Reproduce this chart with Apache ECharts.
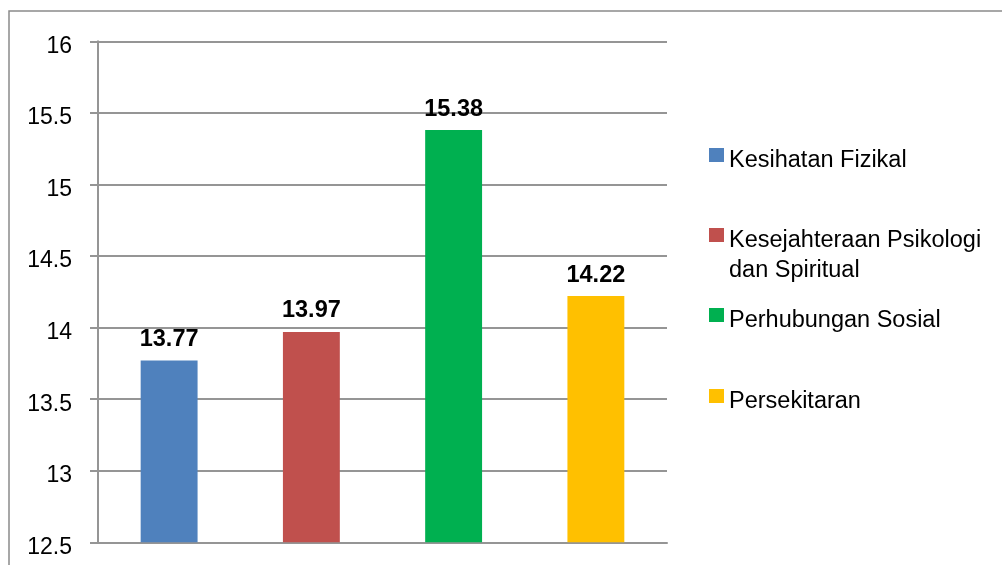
<!DOCTYPE html>
<html>
<head>
<meta charset="utf-8">
<script src="https://cdn.jsdelivr.net/npm/echarts@6/dist/echarts.min.js"></script>
<style>
html,body{margin:0;padding:0;background:#fff;}
#chart{width:1002px;height:565px;}
</style>
</head>
<body>
<div id="chart"></div>
<script>
const categories = ['Kesihatan Fizikal', 'Kesejahteraan Psikologi dan Spiritual', 'Perhubungan Sosial', 'Persekitaran'];
const values = [13.77, 13.97, 15.38, 14.22];
const colors = ['#4F81BD', '#C0504D', '#00B050', '#FFC000'];
const legendLabels = ['Kesihatan Fizikal', 'Kesejahteraan Psikologi\ndan Spiritual', 'Perhubungan Sosial', 'Persekitaran'];
const yMin = 12.5, yMax = 16, yStep = 0.5;

const FONT = "'Liberation Sans', Arial, sans-serif";
const GRID_COLOR = '#959595';

const chart = echarts.init(document.getElementById('chart'), null, {renderer: 'canvas'});

const series = categories.map((name, i) => ({
  name: name,
  type: 'bar',
  barWidth: '40%',
  barGap: '-100%',
  itemStyle: {color: colors[i]},
  label: {
    show: true,
    position: 'top',
    distance: 9,
    color: '#000',
    fontFamily: FONT,
    fontWeight: 'bold',
    fontSize: 23.5,
    lineHeight: 24
  },
  data: values.map((v, j) => (j === i ? v : null))
}));

// legend icons: square at the top of a taller invisible box to align with the first text line
const iconSingle = 'path://M0,0L15,0L15,14L0,14Z M0,26L0.001,26Z';
const iconDouble = 'path://M0,0L15,0L15,14L0,14Z M0,56L0.001,56Z';
const legendTops = [146, 226, 306, 387];

const legends = categories.map((name, i) => ({
  show: true,
  orient: 'vertical',
  left: 709,
  top: legendTops[i],
  padding: 0,
  itemGap: 0,
  itemWidth: 15,
  itemHeight: i === 1 ? 56 : 26,
  itemTextGap: 8,
  icon: i === 1 ? iconDouble : iconSingle,
  selectedMode: false,
  data: [name],
  formatter: () => legendLabels[i],
  textStyle: {
    color: '#000',
    fontFamily: FONT,
    fontSize: 23.5,
    lineHeight: 30
  }
}));

chart.setOption({
  animation: false,
  backgroundColor: '#fff',
  grid: {left: 98, right: 335, top: 41.3, bottom: 22.7, containLabel: false},
  legend: legends,
  graphic: [{
    type: 'rect',
    silent: true,
    z: -1,
    shape: {x: 9, y: 11, width: 1200, height: 800},
    style: {fill: 'none', stroke: '#8a8a8a', lineWidth: 1.5}
  }],
  xAxis: {
    type: 'category',
    data: categories,
    axisLine: {show: true, lineStyle: {color: GRID_COLOR, width: 2}},
    axisTick: {show: false},
    axisLabel: {show: false},
    splitLine: {show: false}
  },
  yAxis: {
    type: 'value',
    min: yMin,
    max: yMax,
    interval: yStep,
    axisLine: {show: true, lineStyle: {color: GRID_COLOR, width: 2}},
    axisTick: {show: true, inside: false, length: 8, lineStyle: {color: GRID_COLOR, width: 2}},
    axisLabel: {
      margin: 26,
      color: '#000',
      fontFamily: FONT,
      fontSize: 23,
      verticalAlign: 'top',
      lineHeight: 10
    },
    splitLine: {show: true, lineStyle: {color: GRID_COLOR, width: 2}}
  },
  series: series
});
</script>
</body>
</html>
